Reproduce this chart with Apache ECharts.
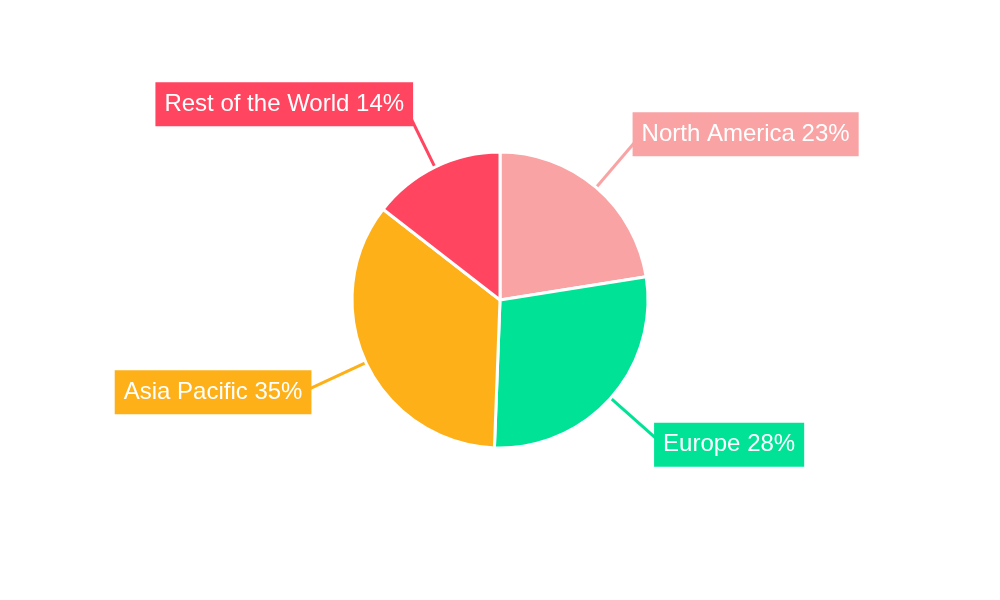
<!DOCTYPE html>
<html><head><meta charset="utf-8">
<script src="https://cdn.jsdelivr.net/npm/echarts@6/dist/echarts.min.js"></script>
<style>html,body{margin:0;padding:0;background:#fff}#c{width:1000px;height:600px}</style>
</head><body><div id="c"></div>
<script>
const categories = ["North America", "Europe", "Asia Pacific", "Rest of the World"];
const values = [22.5, 28.1, 34.9, 14.5];
const colors = ["#F9A3A4", "#00E396", "#FEB019", "#FF4560"];

const chart = echarts.init(document.getElementById('c'), null, {renderer: 'canvas'});
chart.setOption({
  animation: false,
  color: colors,
  series: [{
    type: 'pie',
    center: [500, 300],
    radius: 148,
    startAngle: 90,
    clockwise: true,
    percentPrecision: 0,
    data: categories.map((c, i) => ({
      name: c, value: values[i],
      label: { backgroundColor: colors[i] }
    })),
    itemStyle: { borderColor: '#fff', borderWidth: 3 },
    label: {
      show: true,
      position: 'outside',
      formatter: '{b} {d}%',
      color: '#fff',
      fontFamily: '"Liberation Sans", Arial, sans-serif',
      fontSize: 24,
      lineHeight: 24,
      padding: [10, 9],
      distanceToLabelLine: -9
    },
    labelLine: { show: true, length: 70, length2: 0, lineStyle: { width: 3 } },
    emphasis: { disabled: true }
  }]
});
</script></body></html>
